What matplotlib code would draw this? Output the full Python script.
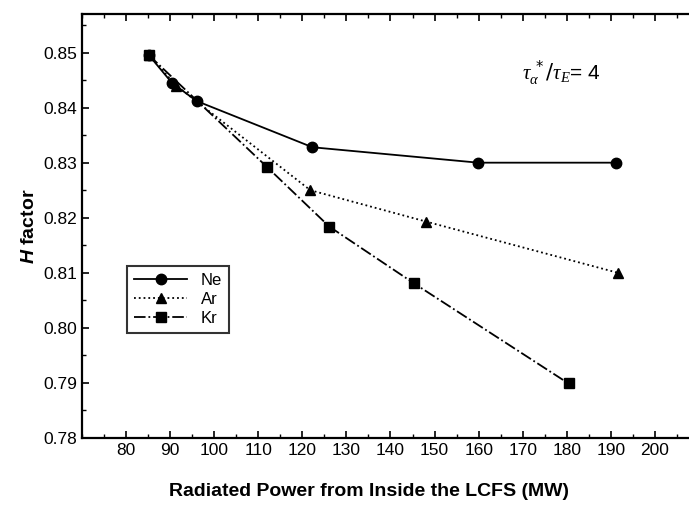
import numpy as np
import matplotlib
matplotlib.use('Agg')
import matplotlib.pyplot as plt
from matplotlib.ticker import MultipleLocator

plt.rcParams['font.family'] = ['Liberation Sans', 'DejaVu Sans']
plt.rcParams['mathtext.fontset'] = 'custom'
plt.rcParams['mathtext.it'] = 'Liberation Serif:italic'
plt.rcParams['mathtext.bfit'] = 'Liberation Sans:italic:bold'

ne_x = [85.2, 90.4, 96.0, 122.3, 159.9, 191.2]
ne_y = [0.8495, 0.8445, 0.8412, 0.8328, 0.8300, 0.8300]
ar_x = [85.2, 91.4, 121.8, 148.1, 191.6]
ar_y = [0.8495, 0.8440, 0.8250, 0.8193, 0.8100]
kr_x = [85.2, 112.0, 126.1, 145.3, 180.4]
kr_y = [0.8495, 0.8292, 0.8184, 0.8081, 0.7899]

fig = plt.figure(figsize=(6.89, 5.2), dpi=100)
ax = fig.add_axes([82/689, 1-438/520, (699-82)/689, (438-14)/520])

ax.plot(ne_x, ne_y, '-', color='black', lw=1.3, marker='o', ms=7.5, label='Ne')
ax.plot(ar_x, ar_y, ':', color='black', lw=1.3, marker='^', ms=7.5, label='Ar')
ax.plot(kr_x, kr_y, '-.', color='black', lw=1.3, marker='s', ms=7.5, label='Kr')

ax.set_xlim(70, 210)
ax.set_ylim(0.78, 0.857)
ax.xaxis.set_minor_locator(MultipleLocator(5))
ax.yaxis.set_minor_locator(MultipleLocator(0.005))
ax.set_xticks(np.arange(80, 201, 10))
ax.set_yticks(np.arange(0.78, 0.851, 0.01))
ax.set_yticklabels(['%.2f' % v for v in np.arange(0.78, 0.851, 0.01)])
ax.tick_params(which='both', direction='in', top=True, right=False, labelsize=12.5)
ax.tick_params(which='major', length=5, width=1.2)
ax.tick_params(which='minor', length=3, width=1)
for s in ax.spines.values():
    s.set_linewidth(1.6)

ax.text(178.8, 0.8463, r'$\tau_\alpha^{\ *}/\tau_E$= 4', fontsize=15,
        ha='center', va='center')

ax.set_ylabel(r'$\mathbfit{H}$ factor', fontsize=14, fontweight='bold', labelpad=4)
fig.text(369/689, 1-492/520, 'Radiated Power from Inside the LCFS (MW)',
         fontsize=14, fontweight='bold', ha='center', va='center')

leg = ax.legend(loc='upper left', bbox_to_anchor=(0.06, 0.425), fontsize=12,
                frameon=True, fancybox=False, edgecolor='black',
                handlelength=3.2, borderpad=0.4, labelspacing=0.25)
leg.get_frame().set_linewidth(1.5)

fig.savefig('out.png', dpi=100)
